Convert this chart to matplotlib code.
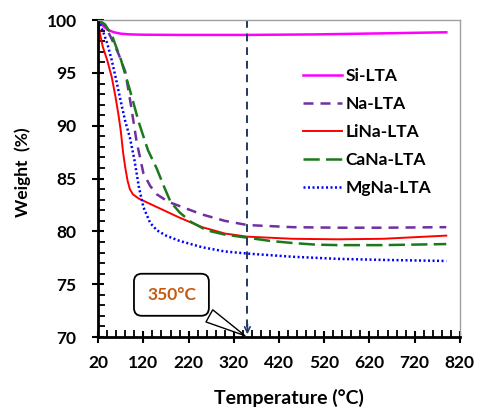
import matplotlib
matplotlib.use('Agg')
import matplotlib.pyplot as plt
from matplotlib.ticker import MultipleLocator

plt.rcParams['font.family'] = ['Lato', 'DejaVu Sans']
plt.rcParams['font.weight'] = 'bold'

# TGA curves: temperature (°C) vs weight (%)
t_si = [20, 30, 40, 55, 70, 90, 120, 200, 350, 500, 650, 790]
w_si = [100, 99.5, 99.1, 98.85, 98.72, 98.65, 98.62, 98.6, 98.6, 98.65, 98.75, 98.85]

t_na = [20, 35, 50, 65, 80, 93, 105, 120, 135, 150, 175, 200, 250, 300, 350, 450, 550, 650, 790]
w_na = [100, 99.5, 98.2, 96.8, 95.1, 91.8, 88.5, 85.5, 84.3, 83.5, 82.8, 82.4, 81.6, 81.0, 80.6, 80.4, 80.35, 80.35, 80.4]

t_li = [20, 25, 30, 40, 50, 58, 65, 70, 75, 80, 85, 90, 97, 110, 130, 160, 200, 250, 300, 350, 450, 550, 650, 720, 790]
w_li = [99.6, 98.5, 97.5, 96.2, 94.6, 92.8, 91.0, 89.5, 87.5, 86.0, 84.8, 84.0, 83.5, 83.1, 82.7, 82.1, 81.3, 80.4, 79.8, 79.5, 79.3, 79.25, 79.3, 79.45, 79.6]

t_ca = [20, 35, 50, 70, 90, 110, 130, 150, 165, 180, 200, 225, 260, 300, 350, 400, 450, 500, 550, 650, 790]
w_ca = [100, 99.6, 98.6, 96.3, 93.4, 90.3, 87.7, 85.9, 84.3, 82.8, 81.8, 80.9, 80.1, 79.7, 79.4, 79.1, 78.9, 78.75, 78.7, 78.7, 78.8]

t_mg = [20, 30, 40, 50, 60, 70, 80, 90, 100, 110, 120, 135, 150, 170, 200, 250, 300, 350, 450, 550, 650, 790]
w_mg = [100, 99.0, 97.8, 96.2, 94.3, 92.3, 90.4, 88.9, 86.8, 84.2, 82.3, 80.8, 80.1, 79.6, 79.1, 78.5, 78.1, 77.9, 77.6, 77.4, 77.3, 77.2]

mark_temp = 350

fig = plt.figure(figsize=(4.79, 4.11), dpi=100)
ax = fig.add_axes([0.205, 0.18, 0.755, 0.771])

ax.plot(t_si, w_si, color='#ff00ff', lw=1.8, label='Si-LTA')
ax.plot(t_na, w_na, color='#7030a0', lw=1.8, dashes=(4, 2.8), label='Na-LTA')
ax.plot(t_li, w_li, color='#ff0000', lw=1.4, label='LiNa-LTA')
ax.plot(t_ca, w_ca, color='#1a7a1a', lw=1.8, dashes=(6.5, 2.5), label='CaNa-LTA')
ax.plot(t_mg, w_mg, color='#0000ff', lw=1.8, dashes=(0.8, 1.0), label='MgNa-LTA')

# vertical marker at 350 °C with an arrow head on the axis
ax.plot([mark_temp, mark_temp], [100, 70.6], color='#1f3864', lw=1.4, dashes=(4, 3))
ax.annotate('', xy=(mark_temp, 70), xytext=(mark_temp, 71.5),
            arrowprops=dict(arrowstyle='->', color='#1f3864', lw=1.2))

# callout label
ax.annotate('350°C', xy=(mark_temp, 70), xytext=(182, 74.0),
            ha='center', va='center', fontsize=12.5, color='#c55a11', fontweight='bold',
            bbox=dict(boxstyle='round,pad=0.75,rounding_size=0.45', fc='white', ec='black', lw=1.3),
            arrowprops=dict(arrowstyle='wedge,tail_width=0.8,shrink_factor=0.5',
                            fc='white', ec='black', lw=1.0))

ax.set_xlim(20, 820)
ax.set_ylim(70, 100)
ax.set_xticks(range(20, 821, 100))
ax.set_yticks(range(70, 101, 5))
ax.xaxis.set_minor_locator(MultipleLocator(20))
ax.yaxis.set_minor_locator(MultipleLocator(1))
ax.tick_params(which='major', direction='inout', length=9, width=1.5, labelsize=12.5)
ax.tick_params(axis='y', which='major', pad=11)
ax.tick_params(axis='x', which='major', pad=8.5)
ax.tick_params(which='minor', direction='in', length=5, width=1.3)
ax.tick_params(axis='x', which='both', top=False)
ax.tick_params(axis='y', which='both', right=False)
for lab in ax.get_xticklabels() + ax.get_yticklabels():
    lab.set_fontweight('bold')

for side in ['left', 'bottom']:
    ax.spines[side].set_linewidth(2)
    ax.spines[side].set_color('black')
for side in ['top', 'right']:
    ax.spines[side].set_linewidth(1)
    ax.spines[side].set_color('#a0a0a0')

ax.set_xlabel('Temperature (°C)', fontsize=14, fontweight='bold')
ax.set_ylabel('Weight  (%)', fontsize=12.5, fontweight='bold')
ax.xaxis.set_label_coords(0.528, -0.165)
ax.yaxis.set_label_coords(-0.185, 0.52)

leg = ax.legend(loc='upper left', bbox_to_anchor=(0.566, 0.85), frameon=False,
                borderaxespad=0, borderpad=0,
                fontsize=12.5, handlelength=2.25, handletextpad=0.2, labelspacing=0.69)
for txt in leg.get_texts():
    txt.set_fontweight('bold')

fig.savefig('out.png', dpi=100)
